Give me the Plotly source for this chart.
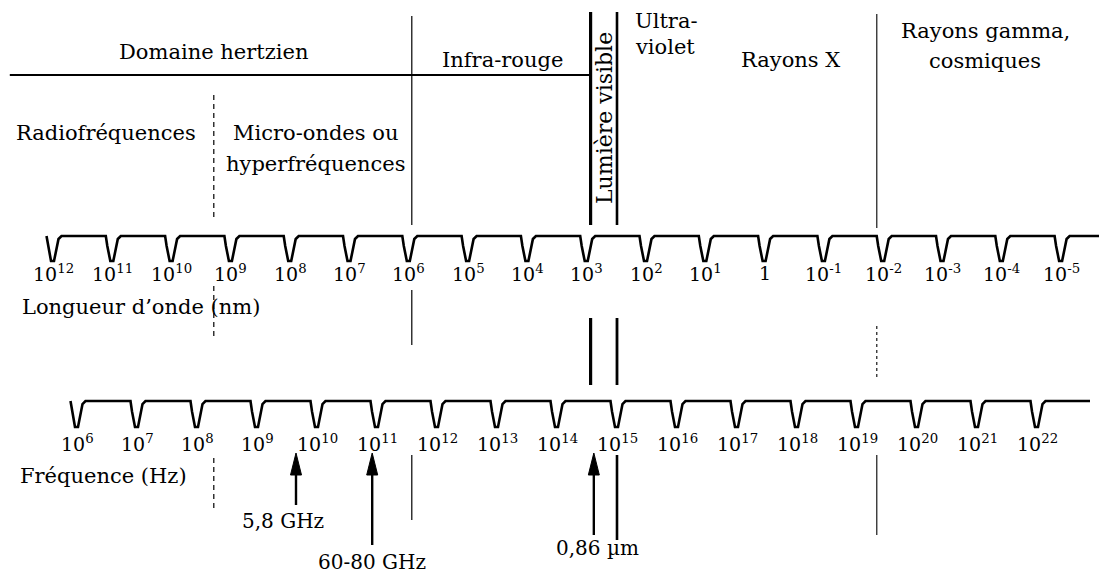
import numpy as np
import plotly.graph_objects as go

# ---------------- data ----------------
wavelength_exponents = [12, 11, 10, 9, 8, 7, 6, 5, 4, 3, 2, 1, 0, -1, -2, -3, -4, -5]   # nm
frequency_exponents = [6, 7, 8, 9, 10, 11, 12, 13, 14, 15, 16, 17, 18, 19, 20, 21, 22]    # Hz

# region boundaries, log10(frequency in Hz)
boundary_names = ["radio_micro", "hertz_ir", "visible_low", "visible_high", "x_gamma"]
boundary_logf = [8.28, 11.58, 14.56, 15.0, 19.33]

# highlighted values (positions: log10 f for GHz, log10 nm for µm)
marker_labels = ["5,8 GHz", "60-80 GHz", "0,86 µm"]
marker_axis = ["freq", "freq", "wl"]
marker_values = [9.65, 10.92, 2.88]

# ---------------- layout constants ----------------
W, H = 1099, 578
FREQ_RANGE = [4.7167, 23.0333]          # log10 f across the page
WL_RANGE = [12.894, -5.639]             # log10 lambda across the page
FONT = "DejaVu Serif"
INK = "black"

WL_TOP, WL_DEPTH, WL_LABEL_Y = 236, 25, 273
FR_TOP, FR_DEPTH, FR_LABEL_Y = 401, 26, 443


def px_per_unit(rng):
    return W / abs(rng[1] - rng[0])


def notch_line(ticks, rng, top, depth, end_px):
    """Build the notched scale line (x in axis units, y in page units)."""
    u = px_per_unit(rng)
    sgn = 1 if rng[1] > rng[0] else -1
    prof = [(-6.5, 0), (-5, 0.4), (-2, 1.0), (1.0, 1.0), (3.5, 0.45), (5.5, 0.12), (8.5, 0.0)]
    xs, ys = [], []
    for t in ticks:
        for dx, f in prof:
            xs.append(t + sgn * dx / u)
            ys.append(top + f * depth)
    xs.append(ticks[-1] + sgn * end_px / u)
    ys.append(top)
    return xs, ys


fig = go.Figure()

# wavelength scale
xs, ys = notch_line(wavelength_exponents, WL_RANGE, WL_TOP, WL_DEPTH, 60)
fig.add_trace(go.Scatter(x=xs, y=ys, xaxis="x2", yaxis="y", mode="lines",
                         line=dict(color=INK, width=2.6), hoverinfo="skip", showlegend=False))
# frequency scale
xs, ys = notch_line(frequency_exponents, FREQ_RANGE, FR_TOP, FR_DEPTH, 53)
fig.add_trace(go.Scatter(x=xs, y=ys, xaxis="x", yaxis="y", mode="lines",
                         line=dict(color=INK, width=2.6), hoverinfo="skip", showlegend=False))

annotations = []


def exp_label(e):
    return "1" if e == 0 else f"10<sup>{e}</sup>"


for e in wavelength_exponents:
    annotations.append(dict(x=e, y=WL_LABEL_Y, xref="x2", yref="y", text=exp_label(e),
                            showarrow=False, font=dict(family=FONT, size=19, color=INK),
                            xanchor="center", yanchor="middle"))
for e in frequency_exponents:
    annotations.append(dict(x=e, y=FR_LABEL_Y, xref="x", yref="y", text=exp_label(e),
                            showarrow=False, font=dict(family=FONT, size=19, color=INK),
                            xanchor="center", yanchor="middle"))

# ---------------- boundary lines ----------------
b = dict(zip(boundary_names, boundary_logf))
shapes = []


def vline(xv, y0, y1, width=1.2, dash="solid"):
    shapes.append(dict(type="line", xref="x", yref="y", x0=xv, x1=xv, y0=y0, y1=y1,
                       line=dict(color=INK, width=width, dash=dash)))


dash = "5px,4px"
# upper zone
vline(b["radio_micro"], 95, 218, 1.2, dash)
vline(b["hertz_ir"], 16, 225, 1.2)
vline(b["visible_low"], 12, 225, 3.2)
vline(b["visible_high"], 12, 225, 2.6)
vline(b["x_gamma"], 14, 228, 1.1)
# middle zone
vline(b["radio_micro"], 286, 336, 1.2, dash)
vline(b["hertz_ir"], 290, 345, 1.2)
vline(b["visible_low"], 318, 385, 3.2)
vline(b["visible_high"], 318, 385, 2.8)
vline(b["x_gamma"], 326, 378, 1.1, "3px,3px")
# lower zone
vline(b["radio_micro"], 458, 512, 1.2, dash)
vline(b["hertz_ir"], 455, 520, 1.2)
vline(b["visible_high"], 455, 540, 2.6)
vline(b["x_gamma"], 455, 535, 1.1)

# horizontal line under "Domaine hertzien" / "Infra-rouge"
shapes.append(dict(type="line", xref="x", yref="y", x0=4.88, x1=b["visible_low"], y0=75, y1=75,
                   line=dict(color=INK, width=1.8)))

# ---------------- arrows ----------------
arrow_tails = [505, 545, 535]
label_y = [521, 562, 548]
label_dx_px = [-13, 0, 4]
for lab, ax_name, v, tail, ly, ldx in zip(marker_labels, marker_axis, marker_values,
                                          arrow_tails, label_y, label_dx_px):
    xa = "x" if ax_name == "freq" else "x2"
    rng = FREQ_RANGE if ax_name == "freq" else WL_RANGE
    u = px_per_unit(rng)
    sgn = 1 if rng[1] > rng[0] else -1
    tip = 453
    head_len, half_w = 22, 5.5
    fig.add_trace(go.Scatter(x=[v, v], y=[tip + head_len - 2, tail], xaxis=xa, yaxis="y",
                             mode="lines", line=dict(color=INK, width=2.4),
                             hoverinfo="skip", showlegend=False))
    fig.add_trace(go.Scatter(x=[v - half_w / u, v, v + half_w / u, v - half_w / u],
                             y=[tip + head_len, tip, tip + head_len, tip + head_len],
                             xaxis=xa, yaxis="y", mode="lines", fill="toself",
                             fillcolor=INK, line=dict(color=INK, width=1),
                             hoverinfo="skip", showlegend=False))
    annotations.append(dict(x=v + sgn * ldx / u, y=ly, xref=xa, yref="y", text=lab,
                            showarrow=False, font=dict(family=FONT, size=20, color=INK),
                            xanchor="center", yanchor="middle"))

# ---------------- region texts ----------------
def ptxt(text, xpx, ypx, anchor="center", size=21, angle=0):
    annotations.append(dict(x=xpx / W, y=ypx, xref="paper", yref="y", text=text, showarrow=False,
                            font=dict(family=FONT, size=size, color=INK), xanchor=anchor,
                            yanchor="middle", textangle=angle))


ptxt("Domaine hertzien", 213, 52)
ptxt("Infra-rouge", 502, 60)
ptxt("Lumière visible", 604, 118, size=22, angle=-90)
ptxt("Ultra-", 633, 21, "left")
ptxt("violet", 633, 47, "left")
ptxt("Rayons X", 790, 60)
ptxt("Rayons gamma,", 985, 31)
ptxt("cosmiques", 985, 61)
ptxt("Radiofréquences", 106, 133)
ptxt("Micro-ondes ou", 315, 133)
ptxt("hyperfréquences", 315, 164)
ptxt("Longueur d\u2019onde (nm)", 20, 307, "left")
ptxt("Fréquence (Hz)", 18, 476, "left")

fig.update_layout(
    width=W, height=H, autosize=False,
    margin=dict(l=0, r=0, t=0, b=0),
    paper_bgcolor="white", plot_bgcolor="white",
    xaxis=dict(range=FREQ_RANGE, visible=False, fixedrange=True),
    xaxis2=dict(range=WL_RANGE, overlaying="x", side="top", visible=False, fixedrange=True),
    yaxis=dict(range=[H, 0], visible=False, fixedrange=True),
    shapes=shapes, annotations=annotations, showlegend=False,
)

fig.write_html("out.html", config={"displayModeBar": False},
               post_script="document.body.style.margin='0px';document.body.style.overflow='hidden';")
